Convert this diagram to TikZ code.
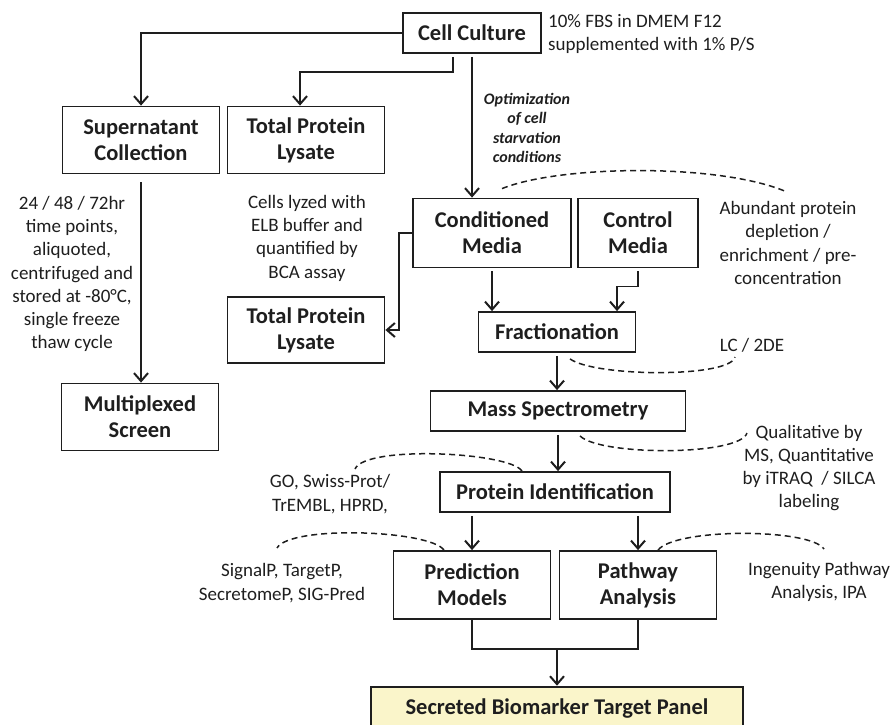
\documentclass[tikz,border=0pt]{standalone}
\usepackage{fontspec}
\setmainfont{Carlito}
\usetikzlibrary{arrows.meta, positioning}
\definecolor{inkc}{RGB}{30,30,30}
\definecolor{panelc}{RGB}{250,245,202}
\newcommand{\boxfont}{\bfseries\fontsize{22.5}{26}\selectfont}
\newcommand{\notefont}{\fontsize{19}{23.3}\selectfont}
\newcommand{\optfont}{\bfseries\itshape\fontsize{16}{19.5}\selectfont}
\tikzset{x=1pt, y=-1pt,
  box/.style={draw=inkc, line width=1.8pt, align=center, font=\boxfont, text=inkc, inner sep=0pt},
  note/.style={align=center, font=\notefont, text=inkc, inner sep=0pt},
  arr/.style={draw=inkc, line width=1.8pt, -{Straight Barb[length=8pt, width=14pt, line width=2pt]}, shorten <=3pt},
  link/.style={draw=inkc, line width=1.8pt},
  dashline/.style={draw=inkc, dashed, dash pattern=on 6pt off 4pt, line width=1.5pt}}

\begin{document}
\begin{tikzpicture}
    \useasboundingbox (0,0) rectangle (895,724);
    \clip (0,0) rectangle (895,724);
    % boxes
    \node[box, minimum width=138, minimum height=40] (cell) at (472,33) {Cell Culture};
    \node[box, minimum width=157, minimum height=67] (super) at (141,140) {Supernatant\\Collection};
    \node[box, minimum width=157, minimum height=67] (tpl1) at (306,140) {Total Protein\\Lysate};
    \node[box, minimum width=158, minimum height=69] (condm) at (492,233) {Conditioned\\Media};
    \node[box, minimum width=120, minimum height=69] (ctrlm) at (638,233) {Control\\Media};
    \node[box, minimum width=157, minimum height=66] (tpl2) at (306,330) {Total Protein\\Lysate};
    \node[box, minimum width=157, minimum height=40] (frac) at (557,332) {Fractionation};
    \node[box, minimum width=157, minimum height=67] (multi) at (140,417) {Multiplexed\\Screen};
    \node[box, minimum width=255, minimum height=40] (mass) at (558,411) {Mass Spectrometry};
    \node[box, minimum width=230, minimum height=40] (protid) at (555,492) {Protein Identification};
    \node[box, minimum width=157, minimum height=68] (predm) at (472,585) {Prediction\\Models};
    \node[box, minimum width=157, minimum height=68] (pathw) at (638,585) {Pathway\\Analysis};
    \node[box, fill=panelc, line width=2.6pt, minimum width=372, minimum height=44] (secr) at (557,709) {Secreted Biomarker Target Panel};
    % notes
    \node[note, anchor=west, align=left] (ccnote) at (548,34) {10\% FBS in DMEM F12\\supplemented with 1\% P/S};
    \node[note, font=\optfont] (optim) at (527,128) {Optimization\\of cell\\starvation\\conditions};
    \node[note] (lysnote) at (307,238) {Cells lyzed with\\ELB buffer and\\quantified by\\BCA assay};
    \node[note] (supnote) at (72,274) {24 / 48 / 72hr\\time points,\\aliquoted,\\centrifuged and\\stored at -80°C,\\single freeze\\thaw cycle};
    \node[note] (abund) at (788,243) {Abundant protein\\depletion /\\enrichment / pre-\\concentration};
    \node[note] (lcnote) at (752,345) {LC / 2DE};
    \node[note] (qualnote) at (809,468) {Qualitative by\\MS, Quantitative\\by iTRAQ\ \ / SILCA\\labeling};
    \node[note] (gonote) at (330,494) {GO, Swiss-Prot/\\TrEMBL, HPRD,};
    \node[note] (signote) at (282,583) {SignalP, TargetP,\\SecretomeP, SIG-Pred};
    \node[note] (ingnote) at (819,582) {Ingenuity Pathway\\Analysis, IPA};
    % arrows
    \draw[arr, shorten <=0pt] (cell.west) -| (super.north);
    \draw[arr] ([shift={(-19,0)}]cell.south) -- ++(0,18) -| ([shift={(-6,0)}]tpl1.north);
    \draw[arr] (cell.south) -- (cell.south |- condm.north);
    \draw[arr, shorten <=0pt] (condm.west) -- ++(-13,0) |- (tpl2.east);
    \draw[arr, shorten <=8pt] (super.south) -- (super.south |- multi.north);
    \draw[arr] (condm.south) -- (condm.south |- frac.north);
    \draw[arr] (ctrlm.south) -- ++(0,18) -| ([shift={(60,0)}]frac.north);
    \draw[arr] (frac.south) -- (frac.south |- mass.north);
    \draw[arr] (mass.south) -- (mass.south |- protid.north);
    \draw[arr] (protid.south -| predm.north) -- (predm.north);
    \draw[arr] (protid.south -| pathw.north) -- (pathw.north);
    \draw[link] (predm.south) -- ++(0,29) coordinate (jl) -| (pathw.south);
    \draw[arr, shorten <=0pt] (jl -| secr.north) -- (secr.north);
    % dashed links to notes
    \draw[dashline] ([shift={(10,-9)}]condm.north) .. controls (560,165) and (720,163) .. ([shift={(-1,-51)}]abund.center);
    \draw[dashline] ([shift={(13,6)}]frac.south) .. controls (595,377) and (730,378) .. ([shift={(-17,12)}]lcnote.center);
    \draw[dashline] ([shift={(22,4)}]mass.south) .. controls (600,456) and (740,456) .. ([shift={(-62,-35)}]qualnote.center);
    \draw[dashline] ([shift={(-33,0)}]protid.north) .. controls (510,452) and (365,445) .. ([shift={(25,-25)}]gonote.center);
    \draw[dashline] ([shift={(-28,0)}]predm.north) .. controls (430,530) and (290,525) .. ([shift={(-5,-35)}]signote.center);
    \draw[dashline] ([shift={(20,0)}]pathw.north) .. controls (675,528) and (810,528) .. ([shift={(5,-33)}]ingnote.center);
\end{tikzpicture}
\end{document}
